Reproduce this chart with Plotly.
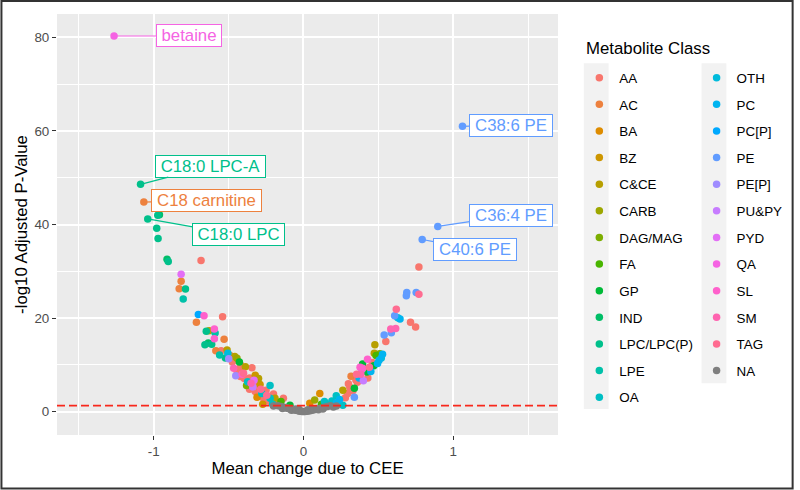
import math
import plotly.graph_objects as go

# ---------------- data ----------------
class_names = ["AA", "AC", "BA", "BZ", "C&CE", "CARB", "DAG/MAG", "FA", "GP", "IND",
               "LPC/LPC(P)", "LPE", "OA", "OTH", "PC", "PC[P]", "PE", "PE[P]", "PU&PY",
               "PYD", "QA", "SL", "SM", "TAG", "NA"]

mean_change = [
    -1.265, -1.088, -1.066, -1.040, -0.973, -0.962, -0.980, -0.971, -0.911, -0.903,
    -0.684, -0.817, -0.817, -0.830, -0.788, -0.803, -0.702, -0.664, -0.715, -0.540,
    -0.649, -0.631, -0.595, -0.590, -0.595, -0.530, -0.658, -0.636, -0.613, -0.585,
    -0.550, -0.510, -0.521, -0.499, -0.490, -0.459, -0.444, -0.428, -0.475, -0.388,
    -0.344, -0.466, -0.444, -0.420, -0.452, -0.421, -0.395, -0.373, -0.360, -0.300,
    -0.306, -0.338, -0.290, -0.223, -0.322, -0.278, -0.245, -0.267, -0.223, -0.190,
    -0.134, -0.272, -0.206, -0.168, -0.090, -0.400, -0.350, -0.250, -0.200, -0.150,
    -0.310, -0.360, -0.420, -0.560, -0.380, -0.330, -0.285, -0.235, -0.160, -0.410,
    -0.505, -0.322,
    0.042, 0.075, 0.109, 0.120, 0.140, 0.165, 0.190, 0.219, 0.241, 0.263,
    0.263, 0.280, 0.296, 0.310, 0.318, 0.330, 0.340, 0.340, 0.360, 0.372,
    0.378, 0.383, 0.395, 0.395, 0.355, 0.400, 0.424, 0.428, 0.440, 0.450,
    0.460, 0.473, 0.477, 0.495, 0.485, 0.505, 0.510, 0.520, 0.528, 0.550,
    0.539, 0.583, 0.587, 0.616, 0.609, 0.620, 0.645, 0.630, 0.687, 0.690,
    0.715, 0.749, 0.753, 0.771, 0.771, 0.793, 0.897, 1.062, 0.430, 0.300,
    0.390, 0.220, 0.180, 0.470, 0.350,
    -0.200, -0.170, -0.150, -0.140, -0.130, -0.120, -0.110, -0.100, -0.090, -0.080,
    -0.080, -0.070, -0.060, -0.050, -0.050, -0.040, -0.030, -0.030, -0.020, -0.010,
    0.000, 0.010, 0.020, 0.030, 0.030, 0.040, 0.050, 0.050, 0.060, 0.070,
    0.080, 0.090, 0.100, 0.100, 0.120, 0.130, 0.140, 0.160, 0.180, 0.200,
    0.220,
]

neg_log10_padj = [
    80.3, 48.6, 44.8, 41.2, 42.0, 42.1, 39.2, 37.0, 32.6, 32.1,
    32.3, 29.4, 27.9, 26.3, 26.2, 24.1, 20.8, 20.5, 19.1, 20.3,
    17.2, 17.3, 17.7, 16.8, 15.6, 15.5, 14.3, 14.7, 14.4, 13.0,
    13.0, 13.2, 11.5, 11.3, 12.0, 11.8, 11.4, 10.6, 10.6, 9.6,
    9.4, 9.3, 8.8, 9.2, 7.7, 7.5, 7.1, 6.4, 7.2, 7.1,
    5.8, 5.3, 5.8, 5.6, 4.3, 3.9, 3.5, 2.9, 2.9, 2.9,
    2.9, 1.6, 1.6, 1.8, 1.4, 8.2, 6.1, 4.6, 3.8, 2.2,
    3.1, 4.8, 10.0, 12.1, 5.6, 6.7, 4.8, 2.3, 1.5, 8.0,
    12.5, 7.8,
    1.8, 2.5, 3.9, 1.6, 2.2, 1.6, 2.3, 3.4, 2.6, 1.4,
    4.6, 3.0, 3.9, 5.2, 7.6, 4.5, 5.0, 3.1, 6.3, 7.2,
    9.5, 8.0, 10.2, 9.3, 8.0, 6.6, 8.5, 11.2, 9.5, 8.6,
    10.5, 12.5, 14.3, 10.3, 12.0, 11.0, 12.4, 11.5, 12.3, 15.0,
    16.4, 17.7, 16.9, 17.8, 20.5, 21.9, 19.8, 20.1, 24.8, 25.5,
    19.1, 18.1, 25.5, 25.1, 30.9, 36.8, 39.6, 61.0, 7.2, 6.0,
    9.0, 1.9, 1.5, 9.8, 6.8,
    1.20, 1.25, 1.10, 0.70, 0.95, 0.85, 0.80, 0.70, 0.60, 0.55,
    0.30, 0.45, 0.40, 0.30, 0.60, 0.25, 0.15, 0.50, 0.10, 0.05,
    0.02, 0.05, 0.08, 0.15, 0.40, 0.20, 0.28, 0.50, 0.35, 0.40,
    0.50, 0.55, 0.65, 0.40, 0.80, 0.60, 0.95, 1.10, 1.25, 1.00,
    1.20,
]

met_class = [
    "QA", "LPC/LPC(P)", "AC", "LPC/LPC(P)", "LPC/LPC(P)", "IND", "LPC/LPC(P)", "LPC/LPC(P)", "IND", "LPC/LPC(P)",
    "AA", "PYD", "AC", "AC", "LPC/LPC(P)", "LPE", "PC[P]", "SL", "AC", "AA",
    "LPC/LPC(P)", "C&CE", "SL", "LPE", "SL", "AC", "LPC/LPC(P)", "IND", "LPC/LPC(P)", "AC",
    "AA", "C&CE", "LPC/LPC(P)", "PE[P]", "AC", "C&CE", "CARB", "GP", "AA", "C&CE",
    "AA", "SM", "AA", "AA", "PE[P]", "AA", "AA", "OA", "AA", "C&CE",
    "AA", "PU&PY", "BZ", "OA", "AA", "OA", "TAG", "AA", "OA", "C&CE",
    "AA", "BZ", "OA", "AA", "GP", "TAG", "SM", "AA", "AA", "FA",
    "BA", "AA", "AA", "LPE", "DAG/MAG", "PYD", "TAG", "AA", "BA", "SL",
    "OTH", "BZ",
    "BA", "CARB", "BA", "FA", "OA", "OA", "OA", "OA", "PC", "OA",
    "C&CE", "AA", "AA", "AA", "AC", "AA", "GP", "PE", "AA", "PC",
    "SL", "SM", "GP", "SL", "TAG", "PU&PY", "GP", "SL", "TAG", "PC",
    "AA", "C&CE", "C&CE", "PC", "FA", "PC", "DAG/MAG", "OTH", "PC", "AA",
    "PE", "SM", "PE", "SM", "PE", "TAG", "PC", "OTH", "PE", "PE",
    "AA", "AA", "PE", "TAG", "AA", "PE", "PE", "PE", "AA", "AA",
    "PE[P]", "PC", "OA", "GP", "AA",
] + ["NA"] * 41

label_text = ["betaine", "C18:0 LPC-A", "C18 carnitine", "C18:0 LPC",
              "C38:6 PE", "C36:4 PE", "C40:6 PE"]
label_class = ["QA", "LPC/LPC(P)", "AC", "LPC/LPC(P)", "PE", "PE", "PE"]
label_px = [-1.265, -1.088, -1.066, -1.040, 1.062, 0.897, 0.793]
label_py = [80.3, 48.6, 44.8, 41.2, 61.0, 39.6, 36.8]
label_bx = [-0.766, -0.622, -0.650, -0.432, 1.387, 1.387, 1.146]
label_by = [80.3, 52.5, 45.1, 37.8, 61.2, 42.0, 34.7]
label_w = [62, 107, 107, 89, 80, 80, 80]

threshold = 1.3


# ---------------- colours (ggplot2 hue palette) ----------------
def hcl_hex(h, c=100.0, l=65.0):
    WX, WY, WZ = 95.047, 100.000, 108.883
    hr = math.radians(h)
    U = c * math.cos(hr)
    V = c * math.sin(hr)
    Y = WY * ((l + 16.0) / 116.0) ** 3 if l > 7.999592 else WY * l / 903.3
    t = WX + WY + WZ
    x = WX / t
    y = WY / t
    uN = 2 * x / (6 * y - x + 1.5)
    vN = 4.5 * y / (6 * y - x + 1.5)
    u = U / (13 * l) + uN
    v = V / (13 * l) + vN
    X = 9.0 * Y * u / (4 * v)
    Z = -X / 3 - 5 * Y + 3 * Y / v
    r = (3.240479 * X - 1.537150 * Y - 0.498535 * Z) / WY
    g = (-0.969256 * X + 1.875992 * Y + 0.041556 * Z) / WY
    b = (0.055648 * X - 0.204043 * Y + 1.057311 * Z) / WY

    def gam(q):
        q = 1.055 * q ** (1 / 2.4) - 0.055 if q > 0.00304 else 12.92 * q
        return min(max(q, 0.0), 1.0)

    return "#%02X%02X%02X" % tuple(int(round(255 * gam(q))) for q in (r, g, b))


n_cls = len(class_names) - 1
colors = {}
for i, nm in enumerate(class_names[:-1]):
    colors[nm] = hcl_hex(15 + 360.0 * i / n_cls)
colors["NA"] = "#7F7F7F"

FONT = "Liberation Sans, Arial, Helvetica, sans-serif"

# ---------------- layout geometry ----------------
W, H = 800, 490
ML, MR, MT, MB = 57, 238, 14, 55
PW = W - ML - MR
PH = H - MT - MB


def px2paper_x(px):
    return (px - ML) / PW


def py2paper_y(py):
    return (H - MB - py) / PH


fig = go.Figure()

for i, nm in enumerate(class_names):
    xs = [mean_change[k] for k in range(len(met_class)) if met_class[k] == nm]
    ys = [neg_log10_padj[k] for k in range(len(met_class)) if met_class[k] == nm]
    fig.add_trace(go.Scatter(
        x=xs, y=ys, mode="markers", name=nm,
        marker=dict(size=7.5, color=colors[nm], line=dict(width=0)),
        legendgroup=nm,
        legend="legend" if i < 13 else "legend2",
        hoverinfo="skip",
    ))

shapes = [
    # significance threshold
    dict(type="line", xref="paper", yref="y", x0=0, x1=1, y0=threshold, y1=threshold,
         line=dict(color="#F8281C", width=1.6, dash="8px,4px"), layer="above"),
    # legend key strips
    dict(type="rect", xref="paper", yref="paper",
         x0=px2paper_x(588), x1=px2paper_x(613), y0=py2paper_y(409), y1=py2paper_y(63.3),
         fillcolor="#F2F2F2", line=dict(width=0), layer="below"),
    dict(type="rect", xref="paper", yref="paper",
         x0=px2paper_x(706.7), x1=px2paper_x(731.7), y0=py2paper_y(383.3), y1=py2paper_y(63.3),
         fillcolor="#F2F2F2", line=dict(width=0), layer="below"),
    # outer frame
    dict(type="rect", xref="paper", yref="paper",
         x0=px2paper_x(1), x1=px2paper_x(798.5), y0=py2paper_y(488.5), y1=py2paper_y(1),
         fillcolor="rgba(0,0,0,0)", line=dict(color="#333333", width=2), layer="above"),
]

annotations = []
for t, c, px_, py_, bx, by, w in zip(label_text, label_class, label_px, label_py,
                                      label_bx, label_by, label_w):
    col = colors[c]
    annotations.append(dict(
        x=px_, y=py_, xref="x", yref="y", ax=bx, ay=by, axref="x", ayref="y",
        text=t, showarrow=True, arrowhead=0, arrowwidth=1.2, arrowcolor=col,
        standoff=0, startstandoff=0,
        font=dict(family=FONT, size=16.8, color=col),
        bgcolor="white", bordercolor=col, borderwidth=1, borderpad=1,
        width=w, height=19, align="center",
    ))

# legend title as a text annotation (placed like ggplot's legend title)
annotations.append(dict(
    x=px2paper_x(588), y=py2paper_y(48), xref="paper", yref="paper",
    xanchor="left", yanchor="middle", showarrow=False, text="Metabolite Class",
    font=dict(family=FONT, size=16.8, color="black"),
))

axis_common = dict(
    showgrid=True, gridcolor="white", gridwidth=1.5, zeroline=False,
    showline=False, ticks="outside", ticklen=4, tickwidth=1.1, tickcolor="#333333",
    tickfont=dict(family=FONT, size=13.4, color="#4D4D4D"),
)

fig.update_layout(
    width=W, height=H,
    margin=dict(l=ML, r=MR, t=MT, b=MB, pad=0),
    paper_bgcolor="white", plot_bgcolor="#EBEBEB",
    font=dict(family=FONT, color="black"),
    xaxis=dict(range=[-1.646, 1.70], tickmode="array", tickvals=[-1, 0, 1],
               ticktext=["-1", "0", "1"],
               minor=dict(tickvals=[-1.5, -0.5, 0.5, 1.5], showgrid=True,
                          gridcolor="white", gridwidth=0.7),
               title=dict(text="Mean change due to CEE",
                          font=dict(family=FONT, size=16.8, color="black"), standoff=4),
               **axis_common),
    yaxis=dict(range=[-4.98, 85.0], tickmode="array", tickvals=[0, 20, 40, 60, 80],
               minor=dict(tickvals=[10, 30, 50, 70], showgrid=True,
                          gridcolor="white", gridwidth=0.7),
               title=dict(text="-log10 Adjusted P-Value",
                          font=dict(family=FONT, size=16.8, color="black"), standoff=2),
               **axis_common),
    legend=dict(x=px2paper_x(583.5), y=py2paper_y(62.5), xanchor="left", yanchor="top",
                bgcolor="rgba(0,0,0,0)", borderwidth=0, tracegroupgap=6.2,
                font=dict(family=FONT, size=13.4, color="black")),
    legend2=dict(x=px2paper_x(701.7), y=py2paper_y(62.5), xanchor="left", yanchor="top",
                 bgcolor="rgba(0,0,0,0)", borderwidth=0, tracegroupgap=6.2,
                 font=dict(family=FONT, size=13.4, color="black")),
    shapes=shapes,
    annotations=annotations,
    showlegend=True,
)

fig.write_html("out.html", config={"displayModeBar": False},
               post_script="document.body.style.margin='0px';")
